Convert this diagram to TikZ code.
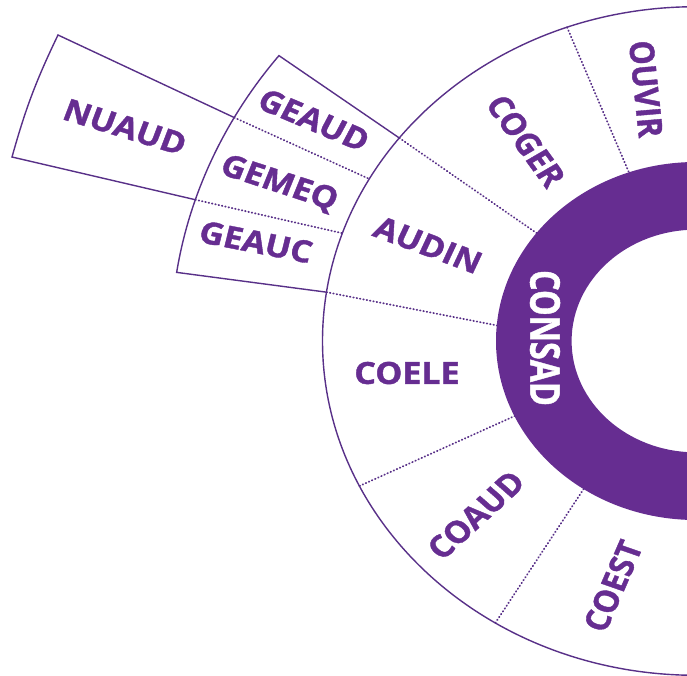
\documentclass[tikz,border=0pt]{standalone}
\usepackage{fontspec}
\usepackage{graphicx}
\setmainfont{Open Sans}[BoldFeatures={FakeBold=1.2}]
\definecolor{pur}{RGB}{102,45,145}
\definecolor{lin}{RGB}{88,48,136}
\begin{document}
\begin{tikzpicture}[x=1pt,y=1pt,
  lbl/.style={text=pur, font=\bfseries\fontsize{34}{34}\selectfont, inner sep=0pt, anchor=center},
  edge/.style={draw=lin, line width=1.4pt, line join=miter},
  sep/.style={draw=lin, line width=1.8pt, dash pattern=on 0.6pt off 2.8pt, line cap=round}]
\useasboundingbox (0,0) rectangle (687,-675);
\clip (0,0) rectangle (687,-675);
\begin{scope}[shift={(696,-341)}, yscale=0.895]
  % ring
  \fill[pur, even odd rule] (0,0) circle[radius=200] (0,0) circle[radius=124.4];
  \draw[edge] (0,0) circle[radius=373.5];
  % dividers of the middle ring
  \coordinate (o1) at (110.2:373.5); \coordinate (i1) at (109.6:200);
  \coordinate (o2) at (142.6:373.5); \coordinate (i2) at (142.9:200);
  \coordinate (o3) at (171.6:373.5); \coordinate (i3) at (175.0:200);
  \coordinate (o4) at (205.7:373.5); \coordinate (i4) at (204.8:200);
  \coordinate (o5) at (237.5:373.5); \coordinate (i5) at (235.8:200);
  \draw[sep] (o1) -- (i1);
  \draw[sep] (o2) -- (i2);
  \draw[sep] (o3) -- (i3);
  \draw[sep] (o4) -- (i4);
  \draw[sep] (o5) -- (i5);
  % GE block
  \coordinate (g1) at (142.6:525);
  \coordinate (g2) at (171.6:525);
  \draw[edge] (o2) -- (g1) arc[start angle=142.6, end angle=171.6, radius=525] -- (o3);
  \coordinate (ga) at (151.6:525); \coordinate (gb) at (151.0:373.5);
  \coordinate (gc) at (162.5:525); \coordinate (gd) at (161.2:373.5);
  \draw[sep] (ga) -- (gb);
  \draw[sep] (gc) -- (gd);
\end{scope}
% NUAUD block
\coordinate (n1) at (58,-35);
\coordinate (n2) at (12,-157);
\draw[edge] (ga) -- (n1) to[bend right=5] (n2) -- (gc);
% labels
\node[lbl, yscale=0.895, rotate=-18.9] (nuaud) at (125,-127) {NUAUD};
\node[lbl, yscale=0.895, rotate=-25.4] (geaud) at (314,-120) {GEAUD};
\node[lbl, yscale=0.895, rotate=-20.0] (gemeq) at (279,-184) {GEMEQ};
\node[lbl, yscale=0.895, rotate=-12.3] (geauc) at (256,-242) {GEAUC};
\node[lbl, yscale=0.895, rotate=-22.7] (audin) at (428,-245) {AUDIN};
\node[lbl, yscale=0.895, rotate=-57.0] (coger) at (526,-141) {COGER};
\node[lbl, yscale=0.895, rotate=-84.6] (ouvir) at (646,-89) {OUVIR};
\node[lbl, yscale=0.895, rotate=0] (coele) at (407,-373) {COELE};
\node[lbl, yscale=0.895, rotate=45.6] (coaud) at (476,-515) {COAUD};
\node[lbl, yscale=0.895, rotate=68.7] (coest) at (613,-586) {COEST};
\node[lbl, text=white, yscale=0.895, rotate=-90, font=\bfseries\fontsize{41}{41}\selectfont] (consad) at (545,-338) {\scalebox{0.88}[1]{CONSAD}};
\end{tikzpicture}
\end{document}
